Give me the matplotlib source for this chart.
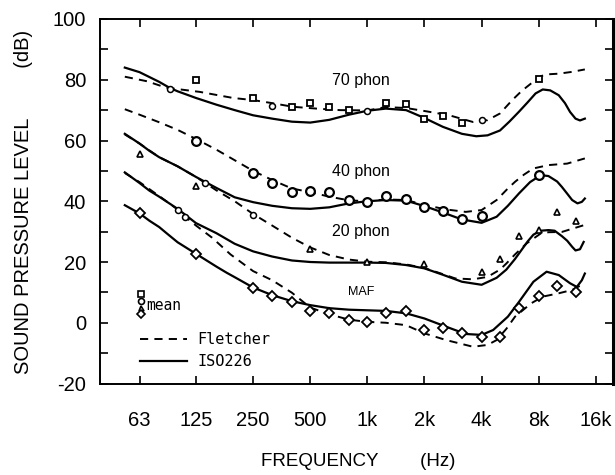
import matplotlib
matplotlib.use('Agg')
import matplotlib.pyplot as plt
from matplotlib import font_manager
from matplotlib.legend_handler import HandlerBase
from matplotlib.lines import Line2D
from matplotlib.ticker import FixedLocator, FuncFormatter, NullLocator

# ---------------- data ----------------
iso70_f = [52.7, 63, 80, 91, 100, 125, 160, 200, 250, 315, 400, 500, 630, 800, 1000, 1250, 1600, 2000,
           2500, 3150, 3750, 4300, 5000, 5600, 6300, 7000, 7700, 8400, 9200, 10200, 11000, 11700, 12500,
           13200, 14000]
iso70_db = [84.0, 82.5, 79.3, 77.3, 76.2, 74.0, 71.8, 70.0, 68.3, 67.2, 66.2, 65.9, 66.8, 68.5, 69.8, 70.5,
            70.0, 67.4, 64.5, 62.2, 61.4, 61.7, 63.3, 66.2, 69.5, 72.6, 75.5, 76.8, 76.5, 74.9, 72.3, 69.4,
            67.2, 66.6, 67.2]

fl70_f = [52.7, 69, 87, 131, 196, 250, 315, 405, 540, 718, 1000, 1250, 1600, 2050, 2700, 3200, 3600, 4300,
          5000, 5800, 6500, 7300, 8200, 9000, 10200, 12000, 14000]
fl70_db = [81.0, 79.5, 77.4, 76.0, 74.0, 73.3, 72.3, 71.1, 70.5, 70.0, 69.9, 71.0, 70.7, 69.6, 68.3, 67.0,
           66.1, 66.7, 68.9, 73.3, 76.3, 78.8, 81.2, 81.8, 82.0, 82.6, 83.4]

iso40_f = [52.7, 63, 71, 80, 100, 125, 160, 200, 250, 315, 400, 500, 630, 800, 1000, 1250, 1600, 2000, 2500,
           3150, 4000, 4800, 5500, 6300, 7200, 8200, 9000, 10000, 10600, 11300, 12000, 12800, 13500, 14000]
iso40_db = [62.2, 59.0, 56.6, 54.5, 51.5, 48.0, 44.4, 41.3, 39.7, 38.5, 37.7, 37.5, 38.0, 39.3, 40.0, 40.4,
            40.2, 38.4, 36.3, 34.0, 32.9, 34.9, 38.5, 42.6, 46.3, 48.6, 48.3, 46.5, 44.7, 42.5, 40.4, 39.3,
            39.8, 40.9]

fl40_f = [52.7, 63, 80, 100, 125, 160, 200, 250, 315, 400, 500, 630, 800, 1000, 1250, 1600, 2000, 2600,
          3300, 4000, 4800, 5500, 6000, 6700, 7500, 9000, 11300, 14000]
fl40_db = [70.3, 68.5, 66.0, 63.5, 60.5, 57.0, 53.5, 50.0, 47.0, 44.2, 43.0, 41.5, 40.3, 40.0, 40.6, 40.4,
           38.8, 37.3, 36.5, 37.1, 40.4, 44.2, 46.4, 48.8, 50.8, 51.9, 52.4, 54.1]

iso20_f = [52.7, 63, 71, 80, 100, 125, 160, 200, 250, 315, 400, 500, 630, 800, 1000, 1250, 1600, 2000, 2500,
           3150, 4000, 4800, 5400, 6000, 6500, 7000, 7500, 8200, 9000, 9700, 10600, 11300, 12000, 12500,
           13200, 13800]
iso20_db = [49.5, 46.0, 43.5, 41.5, 37.5, 32.8, 29.5, 26.0, 23.5, 21.8, 20.5, 20.0, 19.8, 19.8, 19.8, 19.7,
            19.0, 17.9, 15.8, 13.5, 12.5, 14.8, 17.5, 21.0, 24.0, 26.8, 29.0, 30.3, 30.5, 30.3, 28.5, 27.0,
            25.0, 23.8, 24.2, 26.6]

fl20_f = [52.7, 63, 80, 100, 125, 140, 160, 200, 250, 315, 400, 500, 630, 800, 1000, 1250, 1600, 2000, 2500,
          2900, 3600, 4300, 5000, 5400, 6000, 6900, 8200, 9000, 10600, 13000, 13800]
fl20_db = [62.0, 59.0, 54.5, 51.5, 48.0, 46.0, 43.6, 40.0, 35.8, 32.0, 28.0, 24.8, 22.3, 20.8, 20.1, 19.9,
           19.2, 18.0, 16.0, 14.6, 14.3, 15.1, 17.5, 19.5, 22.5, 26.1, 29.4, 29.8, 29.9, 31.6, 32.1]

isomaf_f = [52.7, 63, 71, 80, 87, 100, 125, 160, 181, 200, 250, 315, 400, 500, 630, 800, 1000, 1250, 1600,
            2000, 2600, 3300, 4000, 4600, 5500, 6300, 7500, 8800, 10200, 11700, 12700, 13500, 14000]
isomaf_db = [38.7, 36.0, 33.6, 31.5, 29.6, 26.5, 22.7, 18.5, 16.5, 15.0, 11.6, 9.1, 7.1, 5.8, 4.8, 4.3, 4.1,
             3.9, 3.1, 1.4, -1.3, -3.7, -4.0, -2.4, 2.0, 6.9, 13.5, 16.8, 15.7, 13.0, 11.8, 14.0, 16.2]

flmaf_f = [52.7, 63, 71, 80, 100, 109, 125, 152, 190, 250, 315, 400, 500, 630, 800, 1000, 1250, 1600, 2000,
           2600, 3600, 4300, 4800, 5400, 6000, 7300, 8400, 10200, 12000, 14000]
flmaf_db = [49.3, 46.3, 44.0, 41.7, 37.3, 35.0, 32.0, 28.0, 22.5, 17.0, 14.0, 9.9, 5.0, 2.8, 1.0, 0.3, 0.0,
            -0.8, -3.5, -5.7, -7.9, -7.3, -5.7, -2.0, 2.0, 6.4, 8.6, 9.7, 10.8, 13.0]

# measured means
sq70_f = [125, 250, 400, 500, 630, 800, 1250, 1600, 2000, 2500, 3150, 8000]
sq70_db = [79.8, 74.0, 71.1, 72.2, 70.9, 70.0, 72.5, 71.9, 67.2, 68.0, 65.8, 80.1]

ci40_f = [125, 250, 315, 400, 500, 630, 800, 1000, 1250, 1600, 2000, 2500, 3150, 4000, 8000]
ci40_db = [60.0, 49.3, 45.9, 43.1, 43.3, 43.1, 40.3, 39.8, 41.7, 40.7, 38.0, 36.7, 34.3, 35.1, 48.6]

tr20_f = [63, 125, 500, 1000, 2000, 4000, 5000, 6300, 8000, 10000, 12500]
tr20_db = [55.7, 45.0, 24.3, 19.9, 19.4, 16.8, 21.0, 28.5, 30.4, 36.5, 33.5]

di_f = [63, 125, 250, 315, 400, 500, 630, 800, 1000, 1250, 1600, 2000, 2500, 3150, 4000, 5000, 6300, 8000,
        10000, 12500]
di_db = [36.0, 22.7, 11.6, 8.8, 6.9, 3.9, 3.2, 0.9, 0.2, 3.1, 3.9, -2.4, -1.8, -3.5, -4.8, -4.8, 4.9, 8.8,
         12.1, 10.2]

small_f = [91, 315, 1000, 4000, 140, 250, 100, 109]
small_db = [77.0, 71.5, 69.8, 66.7, 45.9, 35.4, 37.1, 34.9]

xtick_vals = [63, 125, 250, 500, 1000, 2000, 4000, 8000, 16000]
xtick_labels = ['63', '125', '250', '500', '1k', '2k', '4k', '8k', '16k']
ytick_vals = [-20, -10, 0, 10, 20, 30, 40, 50, 60, 70, 80, 90, 100]

curve_labels = ['70 phon', '40 phon', '20 phon', 'MAF']
curve_label_f = [925, 925, 925, 925]
curve_label_db = [79.8, 49.7, 29.9, 10.1]

# ---------------- fonts ----------------
names = {f.name for f in font_manager.fontManager.ttflist}
SANS = 'Liberation Sans' if 'Liberation Sans' in names else 'DejaVu Sans'
MONO = 'DejaVu Sans Mono'

fig = plt.figure(figsize=(6.15, 4.75), dpi=100)
ax = fig.add_axes([100 / 615, (475 - 383.5) / 475, 513 / 615, 364.5 / 475])
ax.set_xscale('log', base=2)
ax.set_xlim(39.0, 19700)
ax.set_ylim(-20, 100)

lw = 1.4
dash = (4.2, 3.2)
for f, d in [(fl70_f, fl70_db), (fl40_f, fl40_db), (fl20_f, fl20_db), (flmaf_f, flmaf_db)]:
    ax.plot(f, d, color='black', lw=lw, linestyle=(0, dash))
for f, d in [(iso70_f, iso70_db), (iso40_f, iso40_db), (iso20_f, iso20_db), (isomaf_f, isomaf_db)]:
    ax.plot(f, d, color='black', lw=lw + 0.2, linestyle='-')

mk = dict(linestyle='none', markerfacecolor='white', markeredgecolor='black', zorder=5)
ax.plot(sq70_f, sq70_db, marker='s', markersize=4.3, markeredgewidth=1.3, **mk)
ax.plot(ci40_f, ci40_db, marker='o', markersize=6.3, markeredgewidth=1.6, **mk)
ax.plot(tr20_f, tr20_db, marker='^', markersize=5.0, markeredgewidth=1.2, **mk)
ax.plot(di_f, di_db, marker='D', markersize=4.6, markeredgewidth=1.3, **mk)
ax.plot(small_f, small_db, marker='o', markersize=4.3, markeredgewidth=1.1, **mk)

for t, f, d in zip(curve_labels, curve_label_f, curve_label_db):
    if t == 'MAF':
        ax.text(f, d, t, ha='center', va='center', fontsize=9, family=SANS)
    else:
        ax.text(f, d, t, ha='center', va='center', fontsize=11.5, family=SANS)

# ticks
ax.xaxis.set_major_locator(FixedLocator(xtick_vals))
ax.xaxis.set_minor_locator(NullLocator())
ax.set_xticklabels(xtick_labels)
ax.yaxis.set_major_locator(FixedLocator(ytick_vals))
ax.yaxis.set_major_formatter(FuncFormatter(lambda v, p: ('%d' % v) if int(round(v)) % 20 == 0 else ''))
ax.tick_params(axis='both', which='major', direction='in', length=6, width=1.2,
               top=True, right=True, labelsize=14.5)
ax.tick_params(axis='x', pad=20)
ax.tick_params(axis='y', pad=10)
for lab in ax.get_xticklabels() + ax.get_yticklabels():
    lab.set_family(SANS)
for s in ['left', 'bottom', 'top']:
    ax.spines[s].set_linewidth(1.4)
ax.spines['right'].set_linewidth(2.2)

ax.set_xlabel('FREQUENCY        (Hz)', fontsize=13.5, family=SANS, va='center')
ax.xaxis.set_label_coords((358 - 100) / 513, (383.5 - 461) / 364.5)
ax.set_ylabel('SOUND PRESSURE LEVEL         (dB)', fontsize=14.5, family=SANS, va='center')
ax.yaxis.set_label_coords((24 - 100) / 513, (383.5 - 201.5) / 364.5)


# ---------------- legends ----------------
class MeanStack:
    pass


class HandlerStack(HandlerBase):
    def create_artists(self, legend, orig_handle, xdescent, ydescent, width, height, fontsize, trans):
        x = -xdescent + 2.0
        yc = -ydescent + height / 2.0
        specs = [('s', 4.0, 8.0), ('o', 4.3, 2.8), ('^', 3.6, -2.4), ('D', 4.0, -6.6)]
        arts = []
        for m, ms, dy in specs:
            ln = Line2D([x], [yc + dy], marker=m, markersize=ms, markerfacecolor='white',
                        markeredgecolor='black', markeredgewidth=1.2, linestyle='none')
            ln.set_transform(trans)
            arts.append(ln)
        return arts


leg1 = ax.legend([MeanStack()], ['mean'], handler_map={MeanStack: HandlerStack()},
                 loc='upper left', bbox_to_anchor=((138 - 100) / 513, (383.5 - 298) / 364.5),
                 frameon=False, borderpad=0, borderaxespad=0, handlelength=0.35, handletextpad=0.2,
                 prop={'family': MONO, 'size': 10.5})
ax.add_artist(leg1)

h_fl = Line2D([], [], color='black', lw=lw, linestyle=(0, dash))
h_iso = Line2D([], [], color='black', lw=lw + 0.2, linestyle='-')
leg2 = ax.legend([h_fl, h_iso], ['Fletcher', 'ISO226'], loc='upper left',
                 bbox_to_anchor=((140 - 100) / 513, (383.5 - 332) / 364.5),
                 frameon=False, borderpad=0, borderaxespad=0, handlelength=3.1, handletextpad=0.65,
                 labelspacing=0.45, prop={'family': MONO, 'size': 11})

fig.savefig('out.png', dpi=100)
